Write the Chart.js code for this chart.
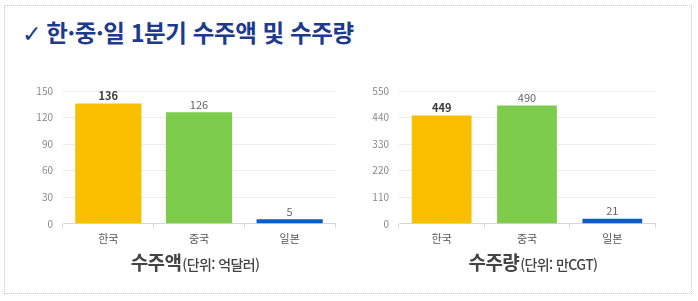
<!DOCTYPE html>
<html lang="ko">
<head>
<meta charset="utf-8">
<title>한·중·일 1분기 수주액 및 수주량</title>
<script src="https://cdn.jsdelivr.net/npm/chart.js@4"></script>
<style>
    body { margin: 0; width: 698px; height: 301px; background: #fff; position: relative; overflow: hidden;
           font-family: "Noto Sans CJK KR", "Noto Sans", sans-serif; }
    .frame { position: absolute; left: 4px; top: 5px; width: 688px; height: 289px; border: 1px dotted #c8c8c8; box-sizing: border-box; }
    .title { position: absolute; left: 22px; top: 15px; font-size: 23.5px; font-weight: 700; color: #1d3a8c; letter-spacing: -0.4px; white-space: nowrap; }
    .title .check { font-family: "DejaVu Sans", sans-serif; font-weight: 700; margin-right: 5px; }
    .box { position: absolute; }
    .caption { position: absolute; top: 248px; width: 300px; text-align: center; color: #444; white-space: nowrap; letter-spacing: -0.6px; }
    .caption b { font-size: 19px; font-weight: 700; }
    .caption span { font-size: 14px; font-weight: 500; margin-left: 1px; }
</style>
</head>
<body>
<div class="frame"></div>
<div class="title"><span class="check">✓</span>한·중·일 1분기 수주액 및 수주량</div>

<div class="box" style="left:20px; top:75px; width:325px; height:174px;"><canvas id="amountChart"></canvas></div>
<div class="box" style="left:350px; top:75px; width:315px; height:174px;"><canvas id="volumeChart"></canvas></div>

<div class="caption" style="left:45px;"><b>수주액</b><span>(단위: 억달러)</span></div>
<div class="caption" style="left:383px;"><b>수주량</b><span>(단위: 만CGT)</span></div>

<script>
// 데이터
const categories = ['한국', '중국', '일본'];
const amountValues = [136, 126, 5];      // 억달러
const volumeValues = [449, 490, 21];     // 만CGT
const amountTicks = [0, 30, 60, 90, 120, 150];
const volumeTicks = [0, 110, 220, 330, 440, 550];
const barColors = ['#f9be00', '#7dcc4b', '#0b5cc4'];

// 막대 위 값 표시
const valueLabels = {
    id: 'valueLabels',
    afterDatasetsDraw(chart) {
        const ctx = chart.ctx;
        const meta = chart.getDatasetMeta(0);
        ctx.save();
        ctx.textAlign = 'center';
        ctx.textBaseline = 'bottom';
        meta.data.forEach((bar, i) => {
            const first = i === 0;
            ctx.font = (first ? '700 ' : '400 ') + '11px "Noto Sans CJK KR", sans-serif';
            ctx.fillStyle = first ? '#3a3a3a' : '#666';
            ctx.fillText(chart.data.datasets[0].data[i], bar.x, bar.y - 2);
        });
        ctx.restore();
    }
};

function makeChart(id, values, ticks, axisWidth, barPct) {
    const ctx = document.getElementById(id).getContext('2d');
    return new Chart(ctx, {
        type: 'bar',
        data: {
            labels: categories,
            datasets: [{
                data: values,
                backgroundColor: barColors,
                barPercentage: barPct,
                categoryPercentage: 1
            }]
        },
        options: {
            responsive: true,
            maintainAspectRatio: false,
            animation: false,
            layout: { padding: { top: 6, right: 10, bottom: 0 } },
            plugins: {
                legend: { display: false },
                tooltip: { enabled: false }
            },
            scales: {
                x: {
                    grid: { drawOnChartArea: false, tickLength: 4, color: '#d6d6d6' },
                    border: { color: '#d6d6d6' },
                    ticks: { color: '#555', padding: 4, font: { size: 11, family: '"Noto Sans CJK KR", sans-serif' } }
                },
                y: {
                    min: ticks[0],
                    max: ticks[ticks.length - 1],
                    afterBuildTicks(scale) {
                        scale.ticks = ticks.map(v => ({ value: v }));
                    },
                    afterFit(scale) { scale.width = axisWidth; },
                    grid: { drawTicks: false, color: '#ececec' },
                    border: { display: false },
                    ticks: { color: '#888', padding: 10, font: { size: 10, family: '"Noto Sans CJK KR", sans-serif' } }
                }
            }
        },
        plugins: [valueLabels]
    });
}

document.addEventListener('DOMContentLoaded', () => {
    makeChart('amountChart', amountValues, amountTicks, 43, 0.73);
    makeChart('volumeChart', volumeValues, volumeTicks, 49, 0.7);
});
</script>
</body>
</html>
